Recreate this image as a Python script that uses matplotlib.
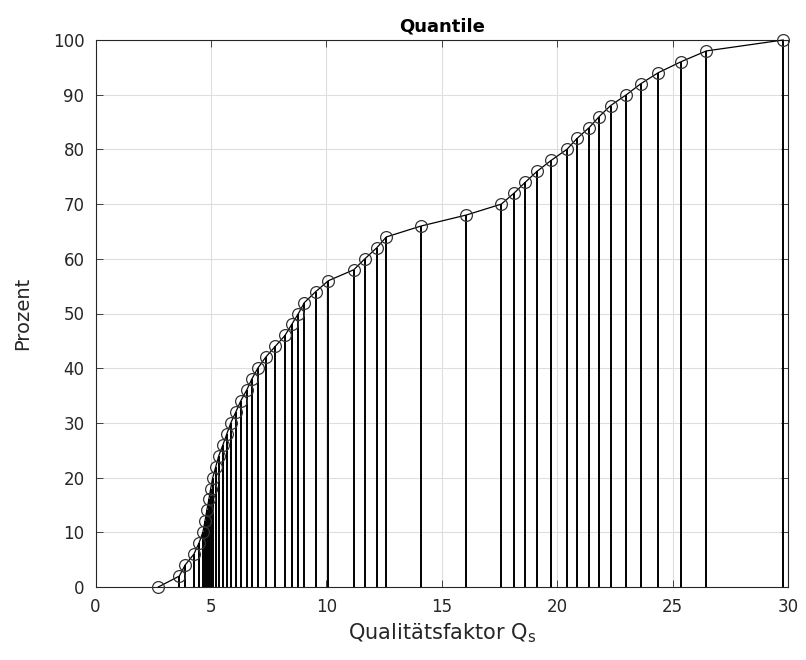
"""Quantile plot: Qualitätsfaktor vs. Prozent"""

import matplotlib
matplotlib.use("Agg")
import matplotlib.pyplot as plt

# percent levels of the quantiles
prozent = [0, 2, 4, 6, 8, 10, 12, 14, 16, 18, 20, 22, 24, 26, 28, 30, 32, 34,
           36, 38, 40, 42, 44, 46, 48, 50, 52, 54, 56, 58, 60, 62, 64, 66, 68,
           70, 72, 74, 76, 78, 80, 82, 84, 86, 88, 90, 92, 94, 96, 98, 100]

# quality factor Q_s at each quantile
qs = [2.72, 3.63, 3.88, 4.26, 4.48, 4.65, 4.74, 4.82, 4.91, 4.99, 5.08, 5.21,
      5.34, 5.52, 5.69, 5.86, 6.08, 6.29, 6.55, 6.77, 7.03, 7.37, 7.79, 8.21,
      8.50, 8.79, 9.05, 9.54, 10.09, 11.19, 11.67, 12.18, 12.60, 14.11, 16.06,
      17.58, 18.13, 18.62, 19.13, 19.74, 20.42, 20.86, 21.39, 21.82, 22.31,
      23.00, 23.62, 24.37, 25.35, 26.46, 29.79]

dark = "0.15"

fig = plt.figure(figsize=(8.06, 6.6), dpi=100)
ax = fig.add_axes([0.1185, 0.1106, 0.8592, 0.8288])

ax.vlines(qs, 0, prozent, colors="black", linewidth=1.4, zorder=2)
ax.plot(qs, prozent, "-o", color="black", linewidth=0.9,
        markersize=8.5, markerfacecolor="none", markeredgecolor="0.2",
        markeredgewidth=0.9, zorder=3, clip_on=False)

ax.set_xlim(0, 30)
ax.set_ylim(0, 100)
ax.set_xticks(range(0, 31, 5))
ax.set_yticks(range(0, 101, 10))
ax.grid(True, color="0.87", linewidth=0.8)
ax.set_axisbelow(True)

ax.tick_params(direction="in", length=5, width=0.6, colors=dark,
               labelsize=12, top=True, right=True, pad=8)
for spine in ax.spines.values():
    spine.set_color(dark)
    spine.set_linewidth(0.8)

ax.set_title("Quantile", fontsize=13, fontweight="bold", pad=6)
ax.set_xlabel(r"Qualitätsfaktor Q$_\mathregular{s}$", fontsize=15,
              color=dark, labelpad=4)
ax.set_ylabel("Prozent", fontsize=14, color=dark, labelpad=15)

fig.savefig("out.png", dpi=100, facecolor="white")
